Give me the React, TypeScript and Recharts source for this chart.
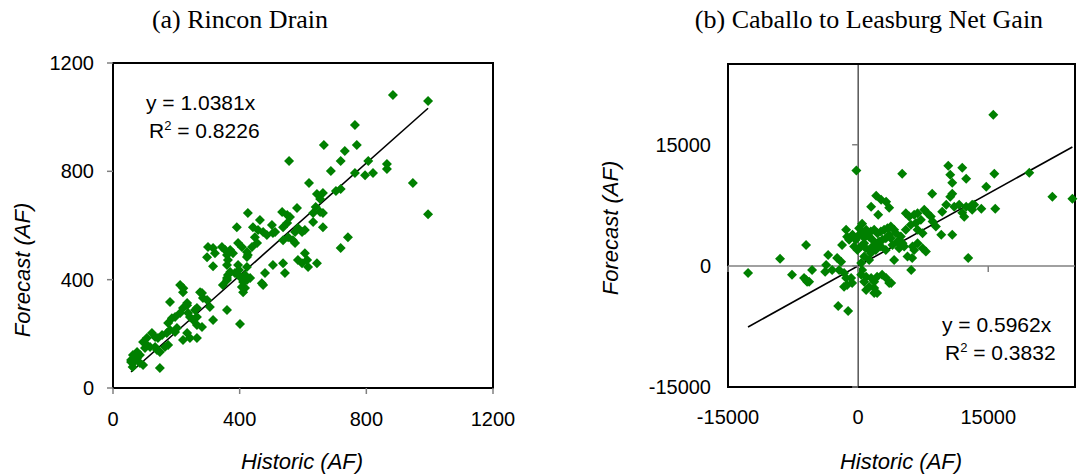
import { ScatterChart, Scatter, XAxis, YAxis, ReferenceLine, ReferenceArea, Label } from 'recharts';

// (a) Rincon Drain: [historic, forecast] in AF
const rinconPoints: [number, number][] = [
  [884, 1082], [995, 1060], [764, 971], [666, 897], [732, 875], [770, 897], [719, 838], [806, 838],
  [865, 827], [865, 809], [688, 801], [764, 794], [796, 786], [821, 794], [947, 757], [619, 757],
  [644, 716], [663, 720], [704, 727], [719, 735], [654, 698], [995, 642], [632, 646], [654, 650],
  [663, 646], [632, 613], [663, 594], [606, 583], [742, 557], [719, 517],
  [556, 838], [581, 665], [534, 650], [550, 639], [559, 631], [426, 646], [464, 620], [391, 594],
  [502, 602], [512, 576], [537, 594], [550, 609], [640, 668], [584, 591], [597, 576], [575, 576],
  [553, 557], [568, 546], [575, 535], [442, 594], [458, 583], [474, 576], [448, 557], [486, 565],
  [505, 572], [439, 521], [455, 535], [537, 546], [395, 535], [407, 521], [423, 502], [426, 491],
  [300, 521], [297, 483], [316, 517], [322, 498], [344, 521], [354, 510], [360, 491], [363, 473],
  [370, 510], [379, 498], [316, 450], [360, 454], [370, 428], [363, 417], [385, 425], [398, 436],
  [407, 406], [411, 391], [417, 417], [433, 406], [407, 373], [411, 354], [360, 406], [347, 380],
  [470, 387], [480, 425], [505, 454], [537, 461], [543, 425], [584, 473], [597, 461], [606, 498],
  [613, 473], [616, 447], [644, 461],
  [360, 288], [401, 236], [316, 251], [281, 351], [284, 332], [306, 299], [234, 314], [237, 277],
  [212, 380], [222, 368], [221, 354], [259, 288], [265, 262], [180, 318], [275, 354], [234, 306],
  [221, 295], [212, 277], [196, 262], [186, 258], [174, 240], [265, 295], [297, 325], [243, 262],
  [253, 251], [265, 233], [281, 225], [234, 203], [243, 185], [265, 185], [221, 177], [202, 222],
  [196, 207], [180, 214], [170, 203], [155, 196], [142, 185], [133, 188], [123, 203], [107, 185],
  [95, 170], [107, 159], [101, 148], [117, 151], [133, 151], [139, 140], [148, 133], [164, 151],
  [174, 159], [63, 122], [57, 103], [76, 111], [57, 96], [62, 78], [63, 92], [85, 92], [95, 85],
  [148, 74], [85, 122], [76, 133],
  [360, 399], [401, 410], [423, 399], [417, 369], [474, 380], [423, 484], [395, 454], [423, 447],
];

// (b) Caballo to Leasburg Net Gain: [historic, forecast] in AF
const caballoPoints: [number, number][] = [
  [-200, 11800], [5080, 11400], [10390, 12400], [12000, 12150], [10620, 11280], [10850, 10290],
  [12460, 10790], [15700, 11400], [14770, 9800], [15810, 7070], [8540, 8930],
  [10850, 8930], [10620, 8560], [10160, 7560], [9690, 6700], [11080, 7320],
  [11650, 7560], [12460, 7320], [13150, 7560], [13150, 6940], [12230, 6080], [12000, 6570],
  [14200, 7070], [13380, 7560], [9580, 3840], [10850, 3840], [12690, 990],
  [2080, 8680], [2650, 8180], [3230, 7940], [3580, 7190], [2310, 6320], [1500, 7320],
  [460, 5210], [920, 4460], [-1380, 4460], [-1270, 3600], [-1850, 2600], [115, 3840], [690, 3470], [1270, 3600],
  [-6000, 2600], [-3460, 1360], [-2420, 990], [-1960, 500], [-3690, 120], [-3000, -500], [-2190, -500],
  [-5310, -500], [-6230, -1490], [-5880, -1980], [-7620, -1110],
  [-1620, -870], [-1380, -1490], [-810, -1490], [-1270, -2360], [-690, -2110], [-1620, -2600],
  [-2300, -4960], [-1150, -5580],
  [350, 370], [460, -500], [350, -1110], [920, -1360], [1500, -1490], [690, -1980], [1270, -2600],
  [1850, -1980], [2190, -1360], [2770, -1110], [3230, -1490], [3580, -2110],
  [920, -2980], [1850, -3350], [2190, -3350], [1850, -2730], [3810, -2110], [6120, -500], [4150, 740],
  [115, 4670], [500, 4050], [1070, 3840], [1460, 4260], [1850, 4460], [2230, 4050], [2620, 4260],
  [3000, 4460], [3380, 4670], [3770, 4880], [4150, 4460], [4350, 4050], [3580, 3840], [3190, 3430],
  [2810, 3220], [2420, 3010], [2040, 2600], [1650, 2390], [1270, 1980], [880, 2190], [1650, 3220],
  [690, 2810], [310, 2390], [-80, 1980], [-460, 2390], [-270, 3220], [-650, 3840], [-1040, 3220],
  [3770, 3430], [4540, 3010], [4920, 3630], [5120, 2810], [4730, 2190], [2040, 1980], [2620, 2390],
  [3190, 1980], [3960, 2600], [1460, 1570], [690, 1160], [1270, 740],
  [5500, 6530], [5890, 6120], [6460, 6330], [6850, 6530], [7230, 5710], [6660, 5300], [7620, 6940],
  [8000, 6530], [8380, 6120], [6080, 5090], [6850, 4460], [7430, 4050], [5500, 4460], [5310, 2390],
  [6270, 2390], [6850, 2810], [7430, 2190], [7810, 1770], [5690, 1160], [6460, 1980], [8580, 5500],
  [8960, 4880], [6230, 990],
  [15580, 18720], [19730, 11530], [22390, 8560], [24700, 8300],
  [-12690, -870], [-9000, 870], [-6000, -1740], [-5650, -1980], [-3800, -740],
];

const rinconSlope = 1.0381;
const rinconR2 = 0.8226;
const caballoSlope = 0.5962;
const caballoR2 = 0.3832;

const rinconTicks = [0, 400, 800, 1200];
const rinconDomain: [number, number] = [0, 1200];
const caballoTicks = [-15000, 0, 15000];
const caballoDomain: [number, number] = [-15000, 25000];

const GREEN = '#008000';
const GREY = '#808080';
const SANS = '"Liberation Sans", Arial, sans-serif';
const SERIF = '"Liberation Serif", "Times New Roman", serif';

// right panel plot box (chart-local px), used for the Excel style ticks on the zero lines
const B = { left: 190, right: 537, top: 64, bottom: 387 };
const zeroX = B.left + ((0 - caballoDomain[0]) / (caballoDomain[1] - caballoDomain[0])) * (B.right - B.left);
const zeroY = B.top + ((caballoDomain[1] - 0) / (caballoDomain[1] - caballoDomain[0])) * (B.bottom - B.top);

function Diamond(props: any) {
  const { cx, cy } = props;
  if (cx == null || cy == null) return null;
  const r = 5;
  return <polygon points={`${cx},${cy - r} ${cx + r},${cy} ${cx},${cy + r} ${cx - r},${cy}`} fill={GREEN} />;
}

function trendSegment(points: [number, number][], slope: number) {
  const xs = points.map(p => p[0]);
  const lo = Math.min(...xs);
  const hi = Math.max(...xs);
  return [{ x: lo, y: lo * slope }, { x: hi, y: hi * slope }];
}

const toXY = (points: [number, number][]) => points.map(([x, y]) => ({ x, y }));

function CaballoYTick(props: any) {
  const { x, y, payload } = props;
  return (
    <g>
      <line x1={zeroX - 6} x2={zeroX} y1={y} y2={y} stroke={GREY} strokeWidth={1.5} />
      <text x={x} y={y} dy="0.35em" textAnchor="end" fontSize={20} fill="#000">{payload.value}</text>
    </g>
  );
}

function CaballoXTick(props: any) {
  const { x, y, payload } = props;
  return (
    <g>
      <line x1={x} x2={x} y1={zeroY} y2={zeroY + 6} stroke={GREY} strokeWidth={1.5} />
      <text x={x} y={y} dy="0.71em" textAnchor="middle" fontSize={20} fill="#000">{payload.value}</text>
    </g>
  );
}

function Equation({ left, top, slope, r2 }: { left: number; top: number; slope: number; r2: number }) {
  return (
    <div style={{ position: 'absolute', left, top, fontFamily: SANS, fontSize: 21, lineHeight: '28px', color: '#000', whiteSpace: 'nowrap' }}>
      <div>y = {slope.toFixed(4)}x</div>
      <div style={{ marginLeft: 3 }}>
        R<span style={{ fontSize: 13, position: 'relative', top: -8 }}>2</span> = {r2.toFixed(4)}
      </div>
    </div>
  );
}

export default function App() {
  return (
    <div style={{ position: 'absolute', left: 0, top: 0, width: 1078, height: 474, background: '#fff', fontFamily: SANS }}>
      <div style={{ position: 'absolute', left: 0, top: 4, width: 480, textAlign: 'center', fontFamily: SERIF, fontSize: 26, lineHeight: '32px' }}>
        (a) Rincon Drain
      </div>
      <div style={{ position: 'absolute', left: 669, top: 4, width: 400, textAlign: 'center', fontFamily: SERIF, fontSize: 26, lineHeight: '32px' }}>
        (b) Caballo to Leasburg Net Gain
      </div>

      <div style={{ position: 'absolute', left: 0, top: 0 }}>
        <ScatterChart width={540} height={474} margin={{ top: 63, right: 47, bottom: 0, left: 0 }}>
          <XAxis
            type="number" dataKey="x" domain={rinconDomain} ticks={rinconTicks} interval={0}
            height={86} tickSize={6} tickMargin={18}
            axisLine={{ stroke: '#000', strokeWidth: 2 }} tickLine={{ stroke: GREY, strokeWidth: 1.5 }}
            tick={{ fill: '#000', fontSize: 20 }}
          >
            <Label content={() => (
              <text x={302} y={469} textAnchor="middle" fontSize={22} fontStyle="italic" fill="#000">Historic (AF)</text>
            )} />
          </XAxis>
          <YAxis
            type="number" dataKey="y" domain={rinconDomain} ticks={rinconTicks} interval={0}
            width={113} tickSize={6} tickMargin={13}
            axisLine={{ stroke: '#000', strokeWidth: 2 }} tickLine={{ stroke: GREY, strokeWidth: 1.5 }}
            tick={{ fill: '#000', fontSize: 20 }}
          >
            <Label content={() => (
              <text transform="translate(30,270) rotate(-90)" textAnchor="middle" fontSize={22} fontStyle="italic" fill="#000">Forecast (AF)</text>
            )} />
          </YAxis>
          <ReferenceArea x1={0} x2={1200} y1={0} y2={1200} fill="none" fillOpacity={0} stroke="#000" strokeWidth={2} />
          <ReferenceLine segment={trendSegment(rinconPoints, rinconSlope)} stroke="#000" strokeWidth={1.6} />
          <Scatter data={toXY(rinconPoints)} shape={Diamond} isAnimationActive={false} />
        </ScatterChart>
      </div>

      <div style={{ position: 'absolute', left: 538, top: 0 }}>
        <ScatterChart width={540} height={474} margin={{ top: 64, right: 3, bottom: 0, left: 0 }}>
          <XAxis
            type="number" dataKey="x" domain={caballoDomain} ticks={caballoTicks} interval={0}
            height={87} tickSize={0} tickMargin={23} axisLine={false} tickLine={false}
            tick={<CaballoXTick />}
          >
            <Label content={() => (
              <text x={363} y={469} textAnchor="middle" fontSize={22} fontStyle="italic" fill="#000">Historic (AF)</text>
            )} />
          </XAxis>
          <YAxis
            type="number" dataKey="y" domain={caballoDomain} ticks={caballoTicks} interval={0}
            width={190} tickSize={0} tickMargin={17} axisLine={false} tickLine={false}
            tick={<CaballoYTick />}
          >
            <Label content={() => (
              <text transform="translate(80,228) rotate(-90)" textAnchor="middle" fontSize={22} fontStyle="italic" fill="#000">Forecast (AF)</text>
            )} />
          </YAxis>
          <ReferenceLine y={0} stroke={GREY} strokeWidth={1.5} />
          <ReferenceLine x={0} stroke="#000" strokeWidth={1} />
          <ReferenceArea x1={-15000} x2={25000} y1={-15000} y2={25000} fill="none" fillOpacity={0} stroke="#000" strokeWidth={2} />
          <ReferenceLine segment={trendSegment(caballoPoints, caballoSlope)} stroke="#000" strokeWidth={1.6} />
          <Scatter data={toXY(caballoPoints)} shape={Diamond} isAnimationActive={false} />
        </ScatterChart>
      </div>

      <Equation left={146} top={89} slope={rinconSlope} r2={rinconR2} />
      <Equation left={942} top={311} slope={caballoSlope} r2={caballoR2} />
    </div>
  );
}
